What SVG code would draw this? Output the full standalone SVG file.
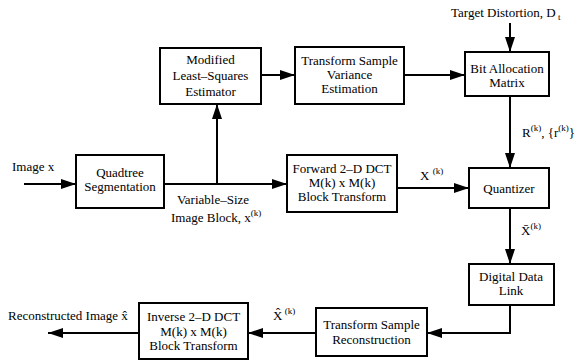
<svg xmlns="http://www.w3.org/2000/svg" width="577" height="363" viewBox="0 0 577 363">
<style>
text{font-family:"Liberation Serif","DejaVu Serif",serif;font-size:13px;fill:#000}
.c{text-anchor:middle}
.box{fill:#fff;stroke:#000;stroke-width:2}
.ln{fill:none;stroke:#000;stroke-width:2}
.sup{font-size:9px}
</style>
<defs>
<marker id="ah" markerUnits="userSpaceOnUse" markerWidth="15" markerHeight="10" refX="15" refY="5" orient="auto">
<path d="M0,0 L15,5 L0,10 z" fill="#000"/>
</marker>
</defs>
<rect width="577" height="363" fill="#fff"/>
<g id="connectors">
<path class="ln" d="M24,184 L76,184" marker-end="url(#ah)"/>
<path class="ln" d="M164,184 L287,184" marker-end="url(#ah)"/>
<path class="ln" d="M217,184 L217,104" marker-end="url(#ah)"/>
<path class="ln" d="M261,75 L295,75" marker-end="url(#ah)"/>
<path class="ln" d="M404,75 L465,75" marker-end="url(#ah)"/>
<path class="ln" d="M510,23 L510,52" marker-end="url(#ah)"/>
<path class="ln" d="M510,96 L510,168" marker-end="url(#ah)"/>
<path class="ln" d="M397,188 L469,188" marker-end="url(#ah)"/>
<path class="ln" d="M510,208 L510,264" marker-end="url(#ah)"/>
<path class="ln" d="M510,305 L510,333 L427,333" marker-end="url(#ah)"/>
<path class="ln" d="M316,333 L248,333" marker-end="url(#ah)"/>
<path class="ln" d="M139,333 L48,333" marker-end="url(#ah)"/>
</g>
<g id="labels">
<text x="12" y="171">Image x</text>
<text x="213" y="203.5" class="c">Variable–Size</text>
<text x="171" y="222">Image Block, x<tspan class="sup" dy="-6">(k)</tspan></text>
<text x="420" y="180">X <tspan class="sup" dy="-6">(k)</tspan></text>
<text x="522" y="137">R<tspan class="sup" dy="-6">(k)</tspan><tspan dy="6">, {r</tspan><tspan class="sup" dy="-6">(k)</tspan><tspan dy="6">}</tspan></text>
<text x="521" y="235">X̄<tspan class="sup" dy="-6">(k)</tspan></text>
<text x="451" y="17">Target Distortion, D<tspan class="sup" dy="3"> t</tspan></text>
<text x="8" y="320">Reconstructed Image x̂</text>
<text x="273" y="320">X̂<tspan class="sup" dy="-6"> (k)</tspan></text>
</g>
<g id="mls"><rect class="box" x="160" y="48" width="101" height="56"/>
<text x="210.5" y="63.5" class="c">Modified</text><text x="210.5" y="79.5" class="c">Least–Squares</text><text x="210.5" y="95.5" class="c">Estimator</text></g>
<g id="tsv"><rect class="box" x="295" y="47" width="109" height="57"/>
<text x="349.5" y="64.5" class="c">Transform Sample</text><text x="349.5" y="78.5" class="c">Variance</text><text x="349.5" y="93" class="c">Estimation</text></g>
<g id="bam"><rect class="box" x="465" y="52" width="84" height="44"/>
<text x="507" y="72.5" class="c">Bit Allocation</text><text x="507" y="86.5" class="c">Matrix</text></g>
<g id="quadtree"><rect class="box" x="76" y="155" width="88" height="53"/>
<text x="120" y="176.5" class="c">Quadtree</text><text x="120" y="190.5" class="c">Segmentation</text></g>
<g id="forward"><rect class="box" x="287" y="155" width="110" height="57"/>
<text x="342" y="172.5" class="c">Forward 2–D DCT</text><text x="342" y="186.5" class="c">M(k) x M(k)</text><text x="342" y="201" class="c">Block Transform</text></g>
<g id="quantizer"><rect class="box" x="469" y="168" width="80" height="40"/>
<text x="509" y="192.5" class="c">Quantizer</text></g>
<g id="ddl"><rect class="box" x="469" y="264" width="85" height="41"/>
<text x="511" y="280.5" class="c">Digital Data</text><text x="511" y="295" class="c">Link</text></g>
<g id="tsr"><rect class="box" x="316" y="308" width="111" height="48"/>
<text x="371.5" y="328.5" class="c">Transform Sample</text><text x="371.5" y="343.5" class="c">Reconstruction</text></g>
<g id="inverse"><rect class="box" x="139" y="303" width="109" height="56"/>
<text x="193.5" y="320.5" class="c">Inverse 2–D DCT</text><text x="193.5" y="335.5" class="c">M(k) x M(k)</text><text x="193.5" y="349.5" class="c">Block Transform</text></g>
</svg>
